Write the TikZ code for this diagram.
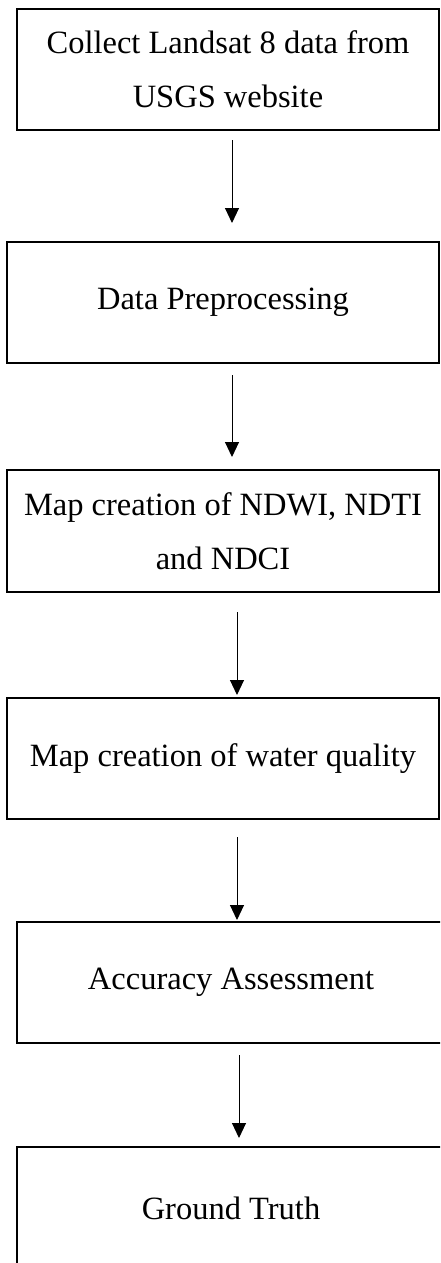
\documentclass[tikz,border=0pt]{standalone}
\usepackage{fontspec}
\setmainfont{Liberation Serif}
\usetikzlibrary{arrows.meta}
\tikzset{
  boxstyle/.style={draw=black, line width=1.4pt, rectangle, align=center, inner sep=0pt,
    font=\fontsize{32.5}{54}\selectfont, anchor=center},
  arr/.style={draw=black, line width=1pt, -{Triangle[width=14pt,length=15pt]}}
}
\begin{document}
\begin{tikzpicture}[x=1pt,y=1pt]
\useasboundingbox (0,0) rectangle (440,-1263);
\fill[white] (0,0) rectangle (440,-1263);
\clip (0,0) rectangle (440,-1263);
% boxes
\node[boxstyle, minimum width=422pt, minimum height=121pt] (b1) at (228,-69.5)
  {Collect Landsat 8 data from\\USGS website};
\node[boxstyle, minimum width=432pt, minimum height=121pt] (b2) at (223,-302.5)
  {Data Preprocessing};
\node[boxstyle, minimum width=432pt, minimum height=122pt] (b3) at (223,-531)
  {Map creation of NDWI, NDTI\\and NDCI};
\node[boxstyle, minimum width=432pt, minimum height=121pt] (b4) at (223,-758.5)
  {Map creation of water quality};
\node[boxstyle, minimum width=428pt, minimum height=121pt] (b5) at (231,-982.5)
  {Accuracy Assessment};
\node[boxstyle, minimum width=428pt, minimum height=122pt] (b6) at (231,-1208)
  {Ground Truth};
% arrow end points
\coordinate (a1s) at (232,-140);  \coordinate (a1e) at (232,-223);
\coordinate (a2s) at (232,-375);  \coordinate (a2e) at (232,-457);
\coordinate (a3s) at (237,-612);  \coordinate (a3e) at (237,-695);
\coordinate (a4s) at (237,-837);  \coordinate (a4e) at (237,-920);
\coordinate (a5s) at (239,-1055); \coordinate (a5e) at (239,-1138);
\draw[arr] (a1s) -- (a1e);
\draw[arr] (a2s) -- (a2e);
\draw[arr] (a3s) -- (a3e);
\draw[arr] (a4s) -- (a4e);
\draw[arr] (a5s) -- (a5e);
\end{tikzpicture}
\end{document}
